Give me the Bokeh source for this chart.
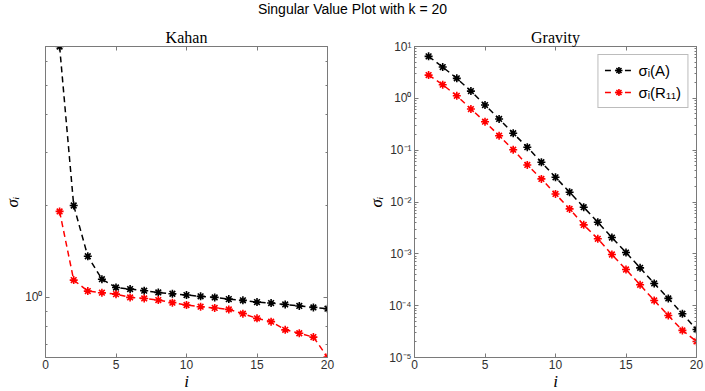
from bokeh.plotting import figure
from bokeh.models import (ColumnDataSource, FixedTicker, LinearAxis, LogAxis, Div,
                          CustomJSTickFormatter, Range1d)
from bokeh.layouts import row, column
from bokeh.embed import file_html
from bokeh.resources import INLINE

# ---------------- data ----------------
idx = list(range(1, 21))
kahan_A = [6.7, 2.007, 1.366, 1.148, 1.078, 1.065, 1.052, 1.038, 1.028, 1.018,
           1.008, 1.0, 0.987, 0.978, 0.965, 0.958, 0.948, 0.937, 0.927, 0.918]
kahan_R11 = [1.919, 1.14, 1.049, 1.036, 1.025, 1.0, 0.992, 0.98, 0.961, 0.944,
             0.932, 0.923, 0.913, 0.884, 0.853, 0.832, 0.782, 0.762, 0.74, 0.636]
gravity_A = [6.45, 4.01, 2.43, 1.38, 0.743, 0.40, 0.212, 0.114, 0.0585, 0.030,
             0.01545, 0.00794, 0.00408, 0.00206, 0.00106, 0.000537, 0.000268,
             0.000138, 6.98e-5, 3.48e-5]
gravity_R11 = [2.81, 1.83, 1.12, 0.622, 0.354, 0.19, 0.102, 0.0519, 0.0279, 0.0143,
               0.00736, 0.00362, 0.00195, 0.00097, 0.000499, 0.000253, 0.000126,
               6.48e-5, 3.33e-5, 2.04e-5]
x_ticks = [0, 5, 10, 15, 20]
title_text = "Singular Value Plot with k = 20"
label_A = "σᵢ(A)"
label_R = "σᵢ(R₁₁)"

AX = "#7a7a7a"
TXT = "#303030"
SANS = "Liberation Sans"
SERIF = "Liberation Serif"

sup_fmt = CustomJSTickFormatter(code="""
const e = Math.round(Math.log10(tick));
const sup = {'-':'\u207b','0':'\u2070','1':'\u00b9','2':'\u00b2','3':'\u00b3','4':'\u2074',
             '5':'\u2075','6':'\u2076','7':'\u2077','8':'\u2078','9':'\u2079'};
return '10' + String(e).split('').map(c => sup[c]).join('');
""")


def style_axis(ax, labels=True):
    ax.axis_line_color = AX
    ax.major_tick_line_color = AX
    ax.minor_tick_line_color = AX
    ax.major_tick_in = 4
    ax.major_tick_out = 0
    ax.minor_tick_in = 2
    ax.minor_tick_out = 0
    ax.major_label_text_font = SANS
    ax.major_label_text_color = TXT
    ax.major_label_text_font_size = "12px"
    ax.major_label_standoff = 3
    if not labels:
        ax.major_label_text_font_size = "1px"
        ax.major_label_text_color = None
        ax.major_label_standoff = 0


def make_fig(title, yr, yticks, yminor, bl, br):
    p = figure(title=title, y_axis_type="log", x_range=Range1d(0, 20), y_range=Range1d(*yr),
               frame_width=282, frame_height=311, min_border_left=bl, min_border_right=br,
               min_border_top=28, min_border_bottom=34,
               output_backend="svg", toolbar_location=None)
    p.title.align = "center"
    p.title.text_font = SERIF
    p.title.text_font_style = "normal"
    p.title.text_font_size = "16px"
    p.title.text_color = "#000000"
    p.title.standoff = 2
    p.xgrid.visible = False
    p.ygrid.visible = False
    p.outline_line_color = AX
    p.outline_line_alpha = 1.0

    xt = FixedTicker(ticks=x_ticks, minor_ticks=[])
    yt = FixedTicker(ticks=yticks, minor_ticks=yminor)
    p.xaxis.ticker = xt
    p.yaxis.ticker = yt
    p.yaxis.formatter = sup_fmt
    style_axis(p.xaxis[0])
    style_axis(p.yaxis[0])
    p.xaxis.major_label_standoff = 2
    p.xaxis.axis_label = "i"
    p.yaxis.axis_label = "σᵢ"
    for ax in (p.xaxis[0], p.yaxis[0]):
        ax.axis_label_text_font = SERIF
        ax.axis_label_text_font_style = "italic"
        ax.axis_label_text_font_size = "17px"
        ax.axis_label_text_color = "#000000"
    p.xaxis.axis_label_standoff = 0
    p.yaxis.axis_label_standoff = 0

    top = LinearAxis(ticker=xt)
    style_axis(top, labels=False)
    p.add_layout(top, "above")
    right = LogAxis(ticker=yt)
    style_axis(right, labels=False)
    p.add_layout(right, "right")
    return p


def draw(p, ys, color, label=None):
    src = ColumnDataSource(dict(x=idx, y=ys))
    kw = dict(legend_label=label) if label else {}
    p.line("x", "y", source=src, line_color=color, line_width=1.5, line_dash="6 4", **kw)
    p.scatter("x", "y", source=src, marker="asterisk", size=8, line_color=color,
              line_width=1.6, **kw)


p1 = make_fig("Kahan", (0.634, 6.7), [1], [0.7, 0.8, 0.9, 2, 3, 4, 5, 6], 45, 16)
draw(p1, kahan_A, "#000000")
draw(p1, kahan_R11, "#ff0000")

gminor = [m * 10.0 ** e for e in range(-5, 1) for m in range(2, 10)]
p2 = make_fig("Gravity", (1e-5, 10), [1e-5, 1e-4, 1e-3, 1e-2, 1e-1, 1, 10], gminor, 71, 8)
draw(p2, gravity_A, "#000000", label_A)
draw(p2, gravity_R11, "#ff0000", label_R)

lg = p2.legend[0]
lg.location = "top_right"
lg.margin = 8
lg.padding = 6
lg.spacing = 4
lg.border_line_color = AX
lg.background_fill_alpha = 1.0
lg.label_text_font = SANS
lg.label_text_font_size = "15px"
lg.label_text_color = "#000000"
lg.glyph_width = 28
lg.glyph_height = 18
lg.label_standoff = 6

div = Div(text=title_text, width=705, height=18, margin=(0, 0, 0, 0),
          styles={"text-align": "center", "font-family": SANS, "font-size": "14px",
                  "line-height": "18px", "color": "#000000", "width": "705px"})

layout = column(div, row(p1, p2))
open("out.html", "w").write(file_html(layout, INLINE))
